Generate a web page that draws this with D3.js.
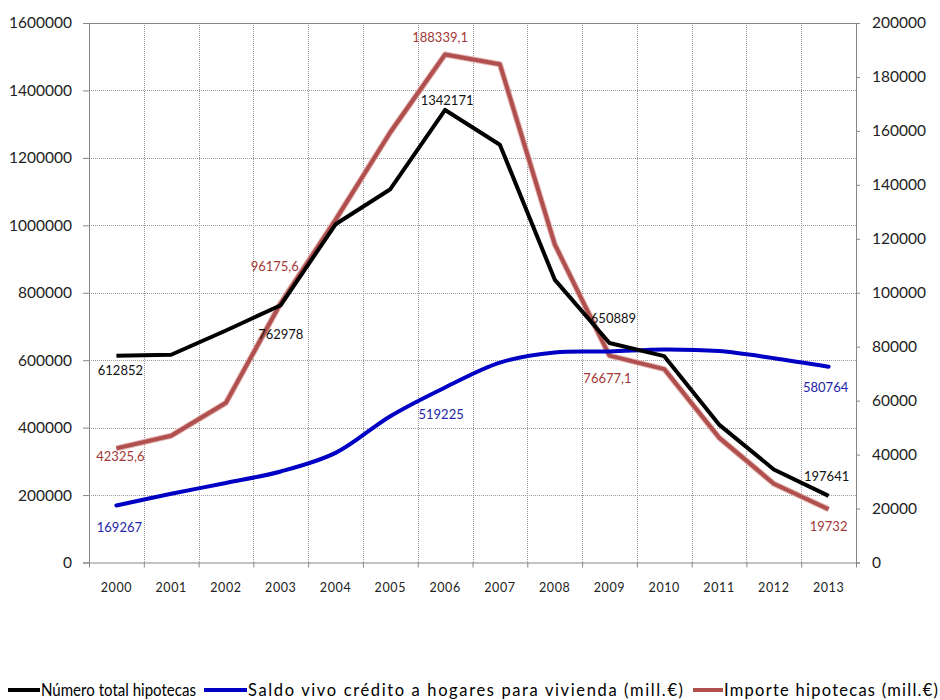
<!DOCTYPE html>
<html>
<head>
<meta charset="utf-8">
<script src="https://cdn.jsdelivr.net/npm/d3@7/dist/d3.min.js"></script>
<style>
  html, body { margin: 0; padding: 0; background: #fff; }
  svg text { font-family: Lato, "Open Sans", "Noto Sans", sans-serif; }
</style>
</head>
<body>
<svg id="chart" width="940" height="700"></svg>
<script>
// Years on the category axis
const years = ["2000","2001","2002","2003","2004","2005","2006","2007","2008","2009","2010","2011","2012","2013"];

// Número total de hipotecas (left axis)
const numeroHipotecas = [612852, 616000, 688000, 762978, 1003000, 1107000, 1342171, 1239000, 839000, 650889, 612000, 409000, 276000, 197641];

// Saldo vivo del crédito a hogares para vivienda, mill. € (left axis)
const saldoVivo = [169267, 204000, 236000, 270000, 325000, 434000, 519225, 593000, 623000, 626000, 632000, 627000, 606000, 580764];

// Importe de las hipotecas, mill. € (right axis)
const importeHipotecas = [42325.6, 47000, 59200, 96175.6, 127000, 159500, 188339.1, 184700, 118000, 76677.1, 71700, 46300, 29200, 19732];

// Axis ticks
const leftTicks = [0, 200000, 400000, 600000, 800000, 1000000, 1200000, 1400000, 1600000];
const rightTicks = [0, 20000, 40000, 60000, 80000, 100000, 120000, 140000, 160000, 180000, 200000];

// Series names for the legend
const seriesNames = [
  "Número total hipotecas",
  "Saldo vivo crédito a hogares para vivienda (mill.€)",
  "Importe hipotecas (mill.€)"
];

// Which points carry a value label
const labelledNumero = ["2000", "2003", "2006", "2009", "2013"];
const labelledSaldo = ["2000", "2006", "2013"];
const labelledImporte = ["2000", "2003", "2006", "2009", "2013"];

const svg = d3.select("#chart");
const m = { left: 89, right: 856, top: 23, bottom: 562.5 };

const x = d3.scaleBand().domain(years).range([m.left, m.right]).paddingInner(0).paddingOuter(0);
const yL = d3.scaleLinear().domain([0, 1600000]).range([m.bottom, m.top]);
const yR = d3.scaleLinear().domain([0, 200000]).range([m.bottom, m.top]);
const cx = d => x(d) + x.bandwidth() / 2;

const es = d3.formatLocale({ decimal: ",", thousands: ".", grouping: [3], currency: ["", " €"] });
const fmtInt = es.format("d");
const fmt1 = es.format(".1f");
const fmtVal = v => Number.isInteger(v) ? fmtInt(v) : fmt1(v);

const axisColor = "#868686";
const gridColor = "#9a9a9a";

// Dotted grid: horizontal at left-axis ticks, vertical at category boundaries
const g = svg.append("g");
g.selectAll("line.hgrid").data(leftTicks.filter(t => t > 0 && t < 1600000)).join("line")
  .attr("x1", m.left).attr("x2", m.right)
  .attr("y1", d => Math.round(yL(d)) + 0.5).attr("y2", d => Math.round(yL(d)) + 0.5)
  .attr("stroke", gridColor).attr("stroke-width", 1).attr("stroke-dasharray", "1,1");
g.selectAll("line.vgrid").data(years.slice(1)).join("line")
  .attr("x1", d => Math.round(x(d)) + 0.5).attr("x2", d => Math.round(x(d)) + 0.5)
  .attr("y1", m.top).attr("y2", m.bottom)
  .attr("stroke", gridColor).attr("stroke-width", 1).attr("stroke-dasharray", "1,1");

// Frame: top line
svg.append("line").attr("x1", m.left).attr("x2", m.right)
  .attr("y1", Math.round(m.top) + 0.5).attr("y2", Math.round(m.top) + 0.5)
  .attr("stroke", axisColor);

// Left axis
const leftAxis = d3.axisLeft(yL).tickValues(leftTicks).tickFormat(d3.format("d")).tickSize(6).tickPadding(11);
const gl = svg.append("g").attr("transform", `translate(${m.left},0)`).call(leftAxis);
// Right axis
const rightAxis = d3.axisRight(yR).tickValues(rightTicks).tickFormat(d3.format("d")).tickSize(4).tickPadding(12);
const gr = svg.append("g").attr("transform", `translate(${m.right},0)`).call(rightAxis);
// Bottom axis with ticks at category boundaries
const xb = d3.scaleLinear().domain([0, years.length]).range([m.left, m.right]);
const gb = svg.append("g").attr("transform", `translate(0,${m.bottom})`)
  .call(d3.axisBottom(xb).tickValues(d3.range(0, years.length + 1)).tickFormat("").tickSize(5).tickSizeOuter(0));
svg.append("g").selectAll("text").data(years).join("text")
  .attr("x", d => cx(d)).attr("y", 587)
  .attr("text-anchor", "middle").attr("dominant-baseline", "central")
  .attr("font-size", 12.5).attr("letter-spacing", 0.6).attr("fill", "#222")
  .text(d => d);

[gl, gr, gb].forEach(a => {
  a.select(".domain").attr("stroke", axisColor);
  a.selectAll(".tick line").attr("stroke", axisColor);
  a.selectAll(".tick text").attr("fill", "#222").attr("font-size", 15.5)
    .attr("font-family", "Lato, 'Open Sans', sans-serif");
});

// Lines
const lineNumero = d3.line().x((d, i) => cx(years[i])).y(d => yL(d));
const lineSaldo = d3.line().x((d, i) => cx(years[i])).y(d => yL(d)).curve(d3.curveCatmullRom.alpha(0.5));
const lineImporte = d3.line().x((d, i) => cx(years[i])).y(d => yR(d));

const red = "#b0504e", blue = "#0000c4", black = "#000";

svg.append("path").attr("d", lineImporte(importeHipotecas))
  .attr("fill", "none").attr("stroke", "#e2b3b1").attr("stroke-width", 6)
  .attr("stroke-linejoin", "round");
svg.append("path").attr("d", lineImporte(importeHipotecas))
  .attr("fill", "none").attr("stroke", red).attr("stroke-width", 4)
  .attr("stroke-linejoin", "round");
svg.append("path").attr("d", lineSaldo(saldoVivo))
  .attr("fill", "none").attr("stroke", blue).attr("stroke-width", 4)
  .attr("stroke-linejoin", "round").attr("stroke-linecap", "round");
svg.append("path").attr("d", lineNumero(numeroHipotecas))
  .attr("fill", "none").attr("stroke", black).attr("stroke-width", 4)
  .attr("stroke-linejoin", "round");

// Value labels: offsets from each labelled point
const place = {
  numero: { "2000": [4, 14], "2003": [0, 29], "2006": [2, -10], "2009": [4, -25], "2013": [-2, -20] },
  saldo: { "2000": [3, 22], "2006": [-4, 27], "2013": [-3, 20] },
  importe: { "2000": [4, 8], "2003": [-6, -37], "2006": [-5, -17], "2009": [-2, 22], "2013": [0, 16.5] }
};

function addLabels(key, values, scale, which, color) {
  const pts = which.map(yr => ({ yr, v: values[years.indexOf(yr)] }));
  svg.append("g").selectAll("text").data(pts).join("text")
    .attr("x", d => cx(d.yr) + place[key][d.yr][0])
    .attr("y", d => scale(d.v) + place[key][d.yr][1])
    .attr("text-anchor", "middle").attr("dominant-baseline", "central")
    .attr("font-size", 13).attr("fill", color)
    .text(d => fmtVal(d.v));
}
addLabels("numero", numeroHipotecas, yL, labelledNumero, "#111");
addLabels("saldo", saldoVivo, yL, labelledSaldo, "#2424a8");
addLabels("importe", importeHipotecas, yR, labelledImporte, "#a23836");

// Legend along the bottom: [line start, line end, text width, length adjust]
const legendColors = [black, blue, red];
const legendSlots = [[8, 40, 155, "spacingAndGlyphs"], [204, 247, 435, "spacing"], [693, 723, 214, "spacing"]];
const legendY = 690;
const lg = svg.append("g").selectAll("g").data(seriesNames).join("g");
lg.append("line")
  .attr("x1", (d, i) => legendSlots[i][0]).attr("x2", (d, i) => legendSlots[i][1])
  .attr("y1", legendY).attr("y2", legendY)
  .attr("stroke", (d, i) => legendColors[i]).attr("stroke-width", 4);
lg.append("text")
  .attr("x", (d, i) => legendSlots[i][1] + 1).attr("y", legendY)
  .attr("dominant-baseline", "central").attr("font-size", 16.5).attr("fill", "#000")
  .attr("textLength", (d, i) => legendSlots[i][2]).attr("lengthAdjust", (d, i) => legendSlots[i][3])
  .text(d => d);
</script>
</body>
</html>
